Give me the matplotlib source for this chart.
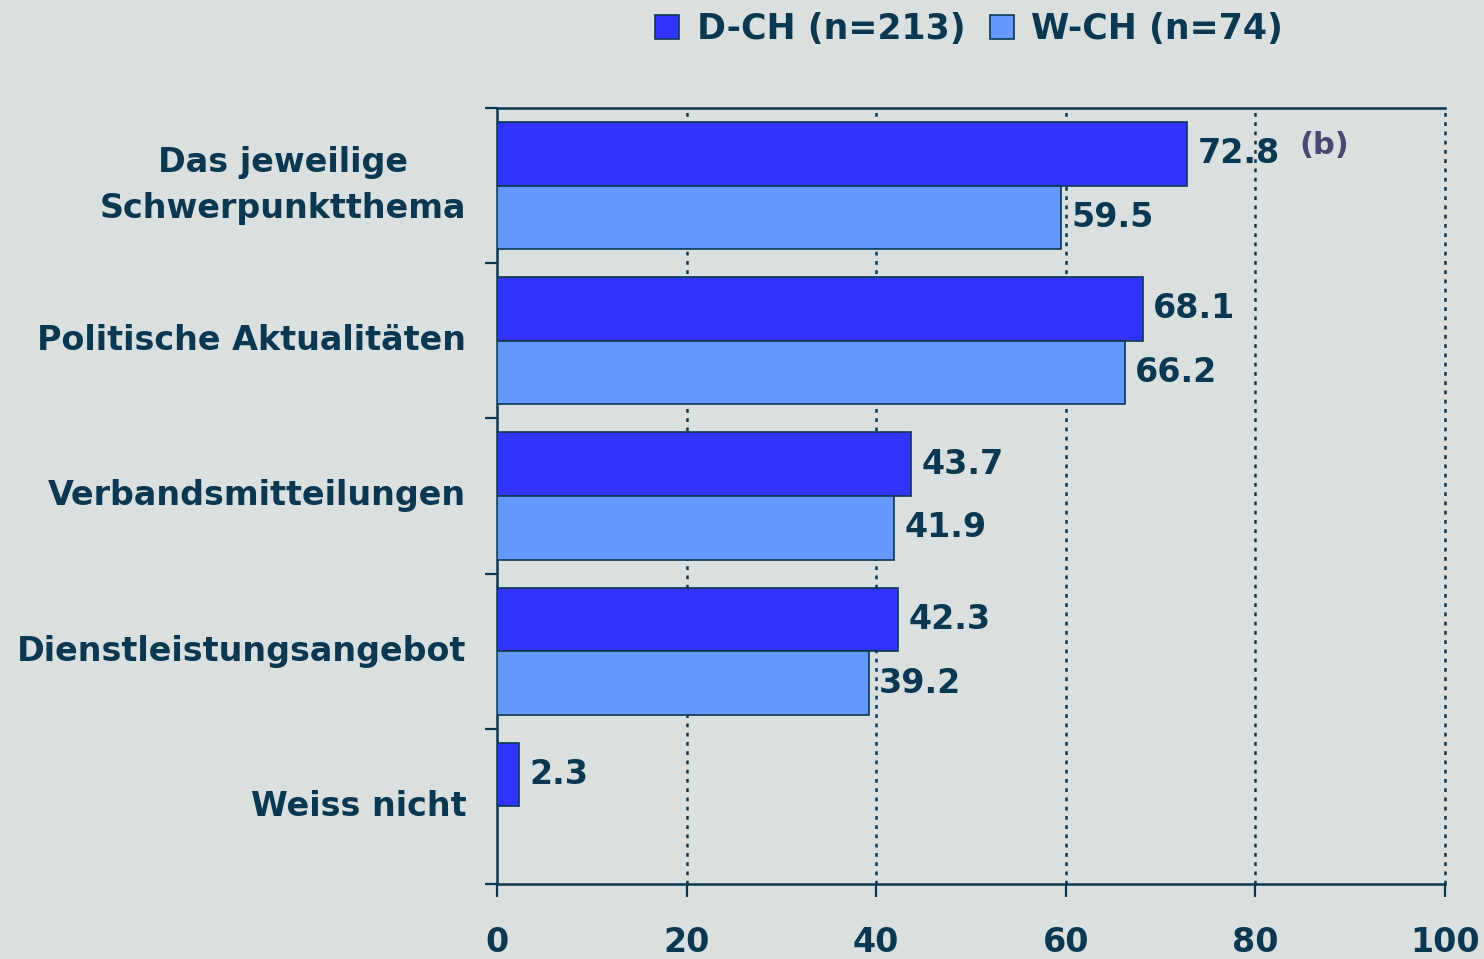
import numpy as np
import matplotlib

matplotlib.use("Agg")
import matplotlib.pyplot as plt

categories = ["Das jeweilige\nSchwerpunktthema", "Politische Aktualitäten",
              "Verbandsmitteilungen", "Dienstleistungsangebot", "Weiss nicht"]
d_ch = [72.8, 68.1, 43.7, 42.3, 2.3]
w_ch = [59.5, 66.2, 41.9, 39.2, None]
series_labels = ["D-CH (n=213)", "W-CH (n=74)"]
x_ticks = [0, 20, 40, 60, 80, 100]

BG = "#dae0e0"
INK = "#0b3850"
C_D = "#3333ff"
C_W = "#6699ff"
FS = 24

plt.rcParams["font.family"] = ["DejaVu Sans"]
plt.rcParams["font.weight"] = "bold"

fig = plt.figure(figsize=(14.84, 9.59), dpi=100, facecolor=BG)
ax = fig.add_axes([0.3349, 0.0782, 0.9737 - 0.3349, 0.8874 - 0.0782], facecolor=BG)

y = np.arange(len(categories))
h = 0.41
wv = np.array([np.nan if v is None else v for v in w_ch])
b1 = ax.barh(y - h / 2, d_ch, height=h, color=C_D, edgecolor=INK, linewidth=1.2,
             label=series_labels[0], zorder=3)
b2 = ax.barh(y + h / 2, wv, height=h, color=C_W, edgecolor=INK, linewidth=1.2,
             label=series_labels[1], zorder=3)

for yy, v in zip(y - h / 2, d_ch):
    ax.text(v + 1.1, yy, f"{v:.1f}", va="center", ha="left", fontsize=FS,
            fontweight="bold", color=INK, zorder=4)
for yy, v in zip(y + h / 2, w_ch):
    if v is not None:
        ax.text(v + 1.1, yy, f"{v:.1f}", va="center", ha="left", fontsize=FS,
                fontweight="bold", color=INK, zorder=4)

ax.text(84.6, -0.26, "(b)", va="center", ha="left", fontsize=22,
        fontweight="bold", color="#4a4872", zorder=4)

ax.set_xlim(0, 100)
ax.set_ylim(len(categories) - 0.5, -0.5)
ax.set_xticks(x_ticks)
ax.set_xticklabels([str(t) for t in x_ticks], fontsize=FS, fontweight="bold", color=INK)
ax.set_yticks(y)
ax.set_yticklabels(categories, fontsize=FS, fontweight="bold", color=INK,
                   ha="right", va="center", multialignment="center", linespacing=1.5)
ax.set_yticks(np.arange(len(categories) + 1) - 0.5, minor=True)
ax.tick_params(axis="y", which="major", length=0, pad=22)
ax.tick_params(axis="y", which="minor", length=9, width=1.6, color=INK)
ax.tick_params(axis="x", length=9, width=1.6, color=INK, pad=21)

for xv in x_ticks[1:]:
    ax.axvline(xv, color=INK, linewidth=1.8, linestyle=(0, (1.5, 2.2)), zorder=1,
               clip_on=False)

for side in ["left", "bottom", "top"]:
    ax.spines[side].set_color(INK)
    ax.spines[side].set_linewidth(1.8)
ax.spines["right"].set_visible(False)

fig.legend(handles=[b1, b2], labels=series_labels, loc="upper center",
           bbox_to_anchor=(0.653, 1.02), ncol=2, frameon=False,
           labelcolor=INK, handlelength=0.7, handleheight=0.7,
           handletextpad=0.5, columnspacing=0.7, prop={"weight": "bold", "size": 25})

fig.savefig("out.png", dpi=100, facecolor=BG)
